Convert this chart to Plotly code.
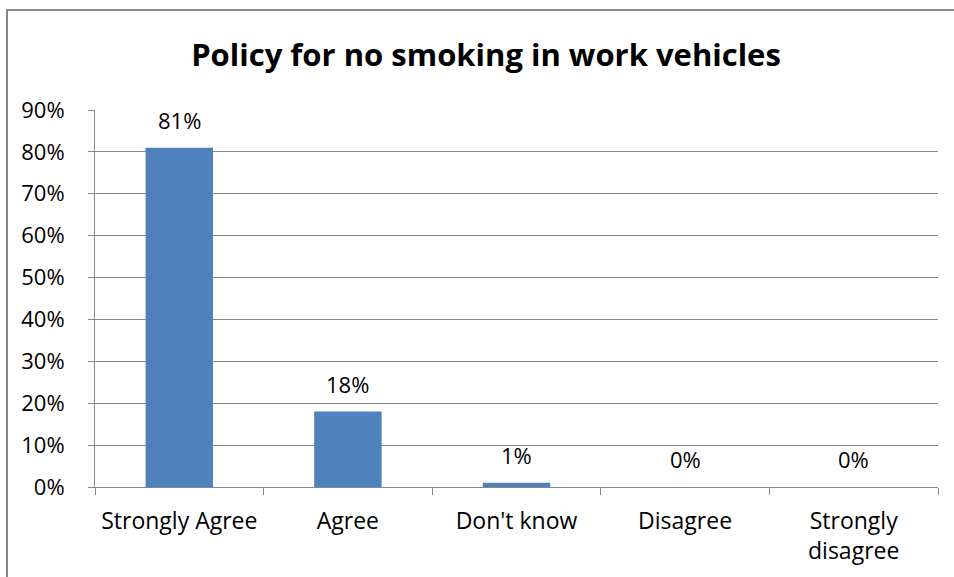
import plotly.graph_objects as go

# Survey responses: share of respondents per answer
categories = ["Strongly Agree", "Agree", "Don't know", "Disagree", "Strongly<br>disagree"]
values = [81, 18, 1, 0, 0]
y_ticks = [0, 10, 20, 30, 40, 50, 60, 70, 80, 90]
y_tick_text = [f"{t}%" for t in y_ticks]

W, H = 954, 577
L, R, T, B = 95, 16, 110, 90
plot_w = W - L - R
plot_h = H - T - B

FONT = "Open Sans"
LABEL_SIZE = 22
GRID = "#878787"
BAR = "#4F81BD"

fig = go.Figure()
fig.add_trace(go.Bar(
    x=categories,
    y=values,
    marker=dict(color=BAR, line=dict(width=0)),
    width=0.4,
    hoverinfo="skip",
))

# value labels above each bar
for c, v in zip(categories, values):
    fig.add_annotation(
        x=c, y=v, text=f"{v}%", showarrow=False,
        yanchor="middle", yshift=28,
        font=dict(family=FONT, size=LABEL_SIZE, color="#000000"),
    )

# outer frame of the chart
def px_to_paper_x(px):
    return (px - L) / plot_w

def px_to_paper_y(py):
    return (H - B - py) / plot_h

fig.add_shape(
    type="rect", xref="paper", yref="paper",
    x0=px_to_paper_x(7), x1=px_to_paper_x(W + 10),
    y0=px_to_paper_y(H + 10), y1=px_to_paper_y(10),
    line=dict(color=GRID, width=2), fillcolor="rgba(0,0,0,0)", layer="below",
)

fig.update_layout(
    width=W, height=H,
    margin=dict(l=L, r=R, t=T, b=B, pad=0),
    paper_bgcolor="white",
    plot_bgcolor="white",
    showlegend=False,
    title=dict(
        text="<b>Policy for no smoking in work vehicles</b>",
        x=486 / W, xanchor="center", xref="container",
        y=1 - 55 / H, yanchor="middle", yref="container",
        font=dict(family=FONT, size=31, color="#000000"),
    ),
    font=dict(family=FONT, size=LABEL_SIZE, color="#000000"),
)

fig.update_xaxes(
    type="category",
    showline=True, linecolor=GRID, linewidth=1,
    ticks="outside", tickson="boundaries", ticklen=7, tickcolor=GRID, tickwidth=1,
    ticklabelstandoff=13,
    showgrid=False,
    tickfont=dict(family=FONT, size=23, color="#000000"),
    fixedrange=True,
)
fig.update_yaxes(
    range=[0, 90], tickvals=y_ticks, ticktext=y_tick_text,
    showline=True, linecolor=GRID, linewidth=1,
    ticks="outside", ticklen=6, tickcolor=GRID, tickwidth=1,
    ticklabelstandoff=19,
    showgrid=True, gridcolor=GRID, gridwidth=1,
    zeroline=False,
    tickfont=dict(family=FONT, size=LABEL_SIZE, color="#000000"),
    fixedrange=True,
)

fig.write_html("out.html", config={"displayModeBar": False})
